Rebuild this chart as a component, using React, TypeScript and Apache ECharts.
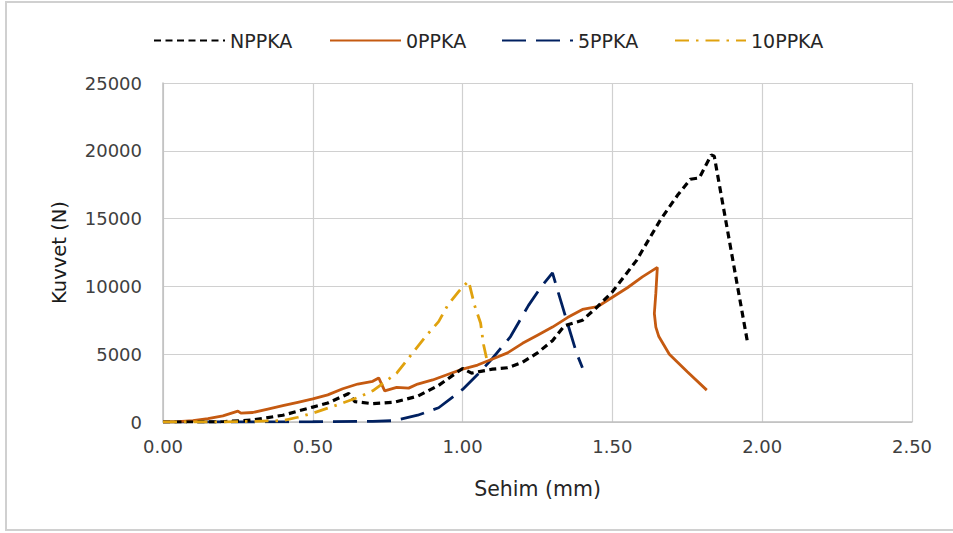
import React, { useEffect, useRef } from "react";
import * as echarts from "echarts";

const seriesNames = ["NPPKA", "0PPKA", "5PPKA", "10PPKA"];

const npPKA: [number, number][] = [
  [0, 0], [0.1, 0], [0.2, 20], [0.3, 150], [0.4, 500], [0.5, 1100], [0.55, 1400],
  [0.6, 1900], [0.62, 2100], [0.64, 1500], [0.7, 1350], [0.77, 1450], [0.85, 1900],
  [0.92, 2700], [1.0, 3950], [1.03, 3600], [1.1, 3900], [1.15, 4000], [1.2, 4400],
  [1.25, 5100], [1.3, 6000], [1.34, 7100], [1.4, 7500], [1.45, 8500], [1.5, 9600],
  [1.58, 11900], [1.66, 14900], [1.72, 16800], [1.76, 17900], [1.79, 18000],
  [1.83, 19700], [1.84, 19600], [1.95, 6000],
];

const zeroPPKA: [number, number][] = [
  [0, 0], [0.05, 30], [0.1, 100], [0.15, 250], [0.2, 450], [0.25, 800], [0.26, 650],
  [0.3, 700], [0.35, 950], [0.4, 1200], [0.45, 1450], [0.5, 1700], [0.55, 2000],
  [0.6, 2450], [0.65, 2800], [0.7, 3000], [0.72, 3250], [0.74, 2300], [0.78, 2550],
  [0.82, 2500], [0.85, 2800], [0.9, 3100], [0.95, 3500], [1.0, 3900], [1.05, 4200],
  [1.1, 4650], [1.15, 5100], [1.2, 5800], [1.25, 6400], [1.3, 7000], [1.35, 7700],
  [1.4, 8300], [1.45, 8500], [1.5, 9200], [1.55, 9900], [1.6, 10700], [1.65, 11400],
  [1.645, 9500], [1.64, 8000], [1.645, 7000], [1.655, 6300], [1.69, 5000],
  [1.75, 3700], [1.815, 2350],
];

const fivePPKA: [number, number][] = [
  [0, 0], [0.3, 0], [0.5, 20], [0.7, 50], [0.77, 100], [0.85, 500], [0.92, 1050],
  [1.0, 2400], [1.05, 3500], [1.1, 4700], [1.16, 6300], [1.22, 8600], [1.26, 9900],
  [1.3, 11000], [1.32, 9500], [1.38, 5100], [1.4, 4000],
];

const tenPPKA: [number, number][] = [
  [0, 0], [0.2, 0], [0.4, 100], [0.45, 350], [0.5, 650], [0.58, 1250], [0.65, 1800],
  [0.7, 2300], [0.78, 3600], [0.83, 5000], [0.88, 6400], [0.92, 7400], [0.95, 8600],
  [0.99, 9700], [1.02, 10400], [1.04, 8600], [1.06, 7300], [1.07, 5700], [1.08, 4700],
];

const FONT = "'DejaVu Sans', 'Open Sans', sans-serif";
const TEXT = "#404040";

export default function App() {
  const ref = useRef<HTMLDivElement>(null);
  useEffect(() => {
    if (!ref.current) return;
    const chart = echarts.init(ref.current, undefined, { renderer: "svg" });
    const legendPos = [148, 324, 496, 669];
    const styles = [
      { color: "#000000", type: [7, 4.5] as any, width: 3.2 },
      { color: "#C55A11", type: "solid" as any, width: 2.8 },
      { color: "#002060", type: [24, 10] as any, width: 2.8 },
      { color: "#E0A20E", type: [14, 7, 2.5, 7] as any, width: 2.8 },
    ];
    const datasets = [npPKA, zeroPPKA, fivePPKA, tenPPKA];
    chart.setOption({
      animation: false,
      backgroundColor: "#ffffff",
      textStyle: { fontFamily: FONT },
      graphic: [
        {
          type: "rect",
          shape: { x: 6, y: 2, width: 1000, height: 528 },
          style: { fill: "none", stroke: "#d0d0d0", lineWidth: 2 },
          silent: true,
        },
      ],
      legend: legendPos.map((left, i) => ({
        data: [seriesNames[i]],
        left,
        top: 26,
        itemWidth: 71,
        itemHeight: 14,
        itemGap: 4,
        itemStyle: { opacity: 0 },
        textStyle: { fontFamily: FONT, fontSize: 19, color: "#262626" },
      })),
      grid: { left: 163, right: 41, top: 83, bottom: 111, containLabel: false },
      xAxis: {
        type: "value",
        min: 0,
        max: 2.5,
        interval: 0.5,
        name: "Sehim (mm)",
        nameLocation: "middle",
        nameGap: 56,
        nameTextStyle: { fontFamily: FONT, fontSize: 20.5, color: "#262626" },
        axisLine: { lineStyle: { color: "#bfbfbf", width: 1.5 } },
        axisTick: { show: false },
        axisLabel: {
          fontFamily: FONT,
          fontSize: 18,
          color: TEXT,
          margin: 15,
          formatter: (v: number) => v.toFixed(2),
        },
        splitLine: { show: true, lineStyle: { color: "#d0d0d0", width: 1.2 } },
      },
      yAxis: {
        type: "value",
        min: 0,
        max: 25000,
        interval: 5000,
        name: "Kuvvet (N)",
        nameLocation: "middle",
        nameGap: 94,
        nameRotate: 90,
        nameTextStyle: { fontFamily: FONT, fontSize: 19.5, color: "#1a1a1a" },
        axisLine: { show: true, lineStyle: { color: "#bfbfbf", width: 1.5 } },
        axisTick: { show: false },
        axisLabel: {
          fontFamily: FONT,
          fontSize: 18,
          color: TEXT,
          margin: 21,
          formatter: (v: number) => String(v),
        },
        splitLine: { show: true, lineStyle: { color: "#d0d0d0", width: 1.2 } },
      },
      series: datasets.map((d, i) => ({
        name: seriesNames[i],
        type: "line",
        data: d,
        showSymbol: false,
        symbol: "none",
        smooth: false,
        lineStyle: styles[i],
        itemStyle: { color: styles[i].color },
        z: [4, 3, 2, 5][i],
      })),
    });
    return () => chart.dispose();
  }, []);
  return (
    <div
      ref={ref}
      style={{ position: "fixed", left: 0, top: 0, width: 953, height: 533 }}
    />
  );
}
